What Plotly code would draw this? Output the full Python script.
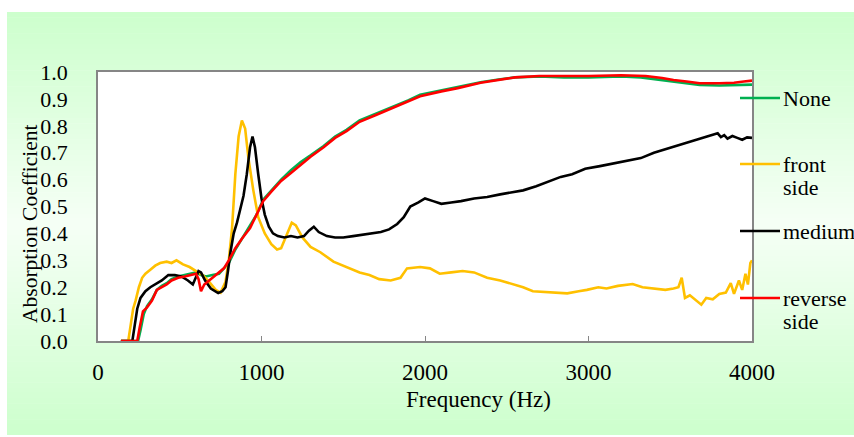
import plotly.graph_objects as go

# ---------------- data ----------------
series_names = ["None", "front side", "medium", "reverse side"]
series_colors = ["#00b050", "#ffc000", "#000000", "#ff0000"]

none_f = [140, 245, 260, 280, 300, 330, 360, 390, 420, 450, 490, 530, 570, 600, 630, 660, 700, 740, 770, 800,
          840, 880, 930, 970, 1010, 1060, 1120, 1180, 1240, 1300, 1380, 1450, 1520, 1600, 1700, 1800, 1900, 1970, 2100, 2200,
          2340, 2450, 2550, 2700, 2850, 3000, 3200, 3320, 3420, 3520, 3600, 3680, 3800, 3900, 4000]
none_a = [0, 0, 0.04, 0.10, 0.13, 0.155, 0.19, 0.205, 0.215, 0.23, 0.24, 0.245, 0.25, 0.255, 0.245, 0.24, 0.245, 0.25, 0.27, 0.29,
          0.34, 0.38, 0.425, 0.47, 0.525, 0.56, 0.60, 0.635, 0.665, 0.69, 0.725, 0.76, 0.785, 0.82, 0.845, 0.868, 0.895, 0.915, 0.932, 0.945,
          0.962, 0.972, 0.98, 0.983, 0.98, 0.98, 0.983, 0.98, 0.972, 0.965, 0.958, 0.952, 0.95, 0.952, 0.953]

front_f = [140, 185, 200, 215, 230, 250, 270, 290, 320, 350, 380, 420, 450, 480, 520, 560, 600, 640, 680, 720,
           750, 780, 800, 820, 840, 860, 880, 900, 920, 950, 980, 1020, 1060, 1095, 1120, 1150, 1185, 1210, 1250, 1300,
           1360, 1440, 1520, 1600, 1660, 1720, 1790, 1850, 1890, 1970, 2030, 2090, 2160, 2230, 2300, 2380, 2460, 2540, 2600, 2660,
           2720, 2800, 2870, 2940, 2990, 3060, 3110, 3180, 3270, 3330, 3400, 3470, 3520, 3550, 3570, 3590, 3620, 3660, 3690, 3720,
           3760, 3800, 3840, 3870, 3890, 3920, 3940, 3960, 3975, 3990, 4000]
front_a = [0, 0, 0.06, 0.12, 0.15, 0.20, 0.235, 0.25, 0.265, 0.28, 0.29, 0.295, 0.29, 0.30, 0.285, 0.275, 0.26, 0.245, 0.22, 0.19,
           0.18, 0.22, 0.30, 0.42, 0.62, 0.76, 0.82, 0.79, 0.68, 0.56, 0.46, 0.40, 0.36, 0.34, 0.345, 0.39, 0.44, 0.43, 0.385, 0.35,
           0.33, 0.295, 0.275, 0.255, 0.245, 0.23, 0.225, 0.235, 0.27, 0.275, 0.27, 0.25, 0.255, 0.26, 0.255, 0.235, 0.225, 0.21, 0.20, 0.185,
           0.183, 0.18, 0.177, 0.185, 0.19, 0.20, 0.195, 0.205, 0.212, 0.20, 0.195, 0.19, 0.195, 0.20, 0.235, 0.16, 0.17, 0.15, 0.135, 0.16,
           0.155, 0.175, 0.18, 0.215, 0.175, 0.225, 0.19, 0.25, 0.21, 0.29, 0.30]

medium_f = [140, 210, 225, 240, 260, 290, 320, 350, 390, 430, 470, 510, 550, 580, 600, 615, 630, 655, 690, 735,
            760, 780, 795, 810, 830, 850, 870, 890, 910, 930, 945, 960, 980, 1000, 1020, 1045, 1070, 1100, 1140, 1180,
            1220, 1260, 1290, 1320, 1350, 1400, 1450, 1500, 1560, 1620, 1680, 1730, 1780, 1830, 1870, 1910, 1960, 2000, 2050, 2100,
            2160, 2220, 2300, 2380, 2460, 2540, 2600, 2680, 2760, 2830, 2900, 2980, 3070, 3150, 3230, 3320, 3400, 3480, 3560, 3640,
            3720, 3790, 3810, 3830, 3850, 3880, 3910, 3940, 3970, 4000]
medium_a = [0, 0, 0.06, 0.12, 0.16, 0.185, 0.20, 0.21, 0.225, 0.245, 0.245, 0.24, 0.225, 0.21, 0.24, 0.26, 0.255, 0.225, 0.195, 0.178,
            0.185, 0.20, 0.26, 0.33, 0.40, 0.44, 0.49, 0.54, 0.62, 0.72, 0.76, 0.72, 0.62, 0.53, 0.47, 0.425, 0.40, 0.39, 0.385, 0.39,
            0.385, 0.39, 0.41, 0.425, 0.405, 0.39, 0.385, 0.385, 0.39, 0.395, 0.40, 0.405, 0.415, 0.435, 0.46, 0.50, 0.515, 0.53, 0.52, 0.51,
            0.515, 0.52, 0.53, 0.535, 0.545, 0.555, 0.56, 0.575, 0.595, 0.61, 0.62, 0.64, 0.65, 0.66, 0.67, 0.68, 0.70, 0.715, 0.73, 0.745,
            0.76, 0.772, 0.758, 0.765, 0.752, 0.762, 0.755, 0.748, 0.757, 0.755]

reverse_f = [140, 240, 255, 275, 300, 330, 360, 390, 420, 450, 490, 530, 570, 600, 615, 630, 650, 670, 700, 735,
             770, 800, 840, 880, 930, 970, 1010, 1060, 1120, 1180, 1240, 1300, 1380, 1450, 1520, 1600, 1700, 1800, 1900, 1970,
             2100, 2200, 2340, 2450, 2550, 2700, 2850, 3000, 3200, 3350, 3450, 3520, 3600, 3680, 3800, 3890, 3950, 4000]
reverse_a = [0, 0, 0.05, 0.11, 0.125, 0.15, 0.19, 0.20, 0.21, 0.225, 0.235, 0.24, 0.245, 0.25, 0.23, 0.185, 0.21, 0.22, 0.235, 0.25,
             0.27, 0.30, 0.345, 0.38, 0.42, 0.47, 0.52, 0.555, 0.595, 0.625, 0.655, 0.685, 0.72, 0.755, 0.78, 0.815, 0.84, 0.865, 0.89, 0.91,
             0.928, 0.94, 0.96, 0.97, 0.98, 0.985, 0.985, 0.985, 0.988, 0.985, 0.978, 0.97, 0.965, 0.958, 0.958, 0.96, 0.965, 0.968]

x_ticks = [0, 1000, 2000, 3000, 4000]

xs = [none_f, front_f, medium_f, reverse_f]
ys = [none_a, front_a, medium_a, reverse_a]
for a, b in zip(xs, ys):
    assert len(a) == len(b), (len(a), len(b))

# ---------------- figure ----------------
W, H = 854, 437
L, R, T, B = 98, 752, 72, 341
FONT = "'Liberation Serif', 'Times New Roman', 'DejaVu Serif', serif"


def px_x(px):
    return (px - L) / (R - L)


def px_y(py):
    return (B - py) / (B - T)


fig = go.Figure()
for name, color, fx, fa in zip(series_names, series_colors, xs, ys):
    fig.add_trace(go.Scatter(x=fx, y=fa, mode="lines", name=name,
                             line=dict(color=color, width=2.6), showlegend=False))

shapes = []
# gradient background (green -> pale -> green)
top_px, bot_px, mid_px = 12, 435, 224
green = (204, 255, 204)
pale = (246, 255, 246)
n = 40
for i in range(n):
    y0 = top_px + (mid_px - top_px) * i / n
    y1 = top_px + (mid_px - top_px) * (i + 1) / n
    t = (i + 0.5) / n
    c = tuple(round(green[k] + (pale[k] - green[k]) * t) for k in range(3))
    shapes.append(dict(type="rect", xref="paper", yref="paper", x0=px_x(7), x1=px_x(W + 5),
                       y0=px_y(y1 + 0.5), y1=px_y(y0), fillcolor="rgb(%d,%d,%d)" % c,
                       line=dict(width=0), layer="below"))
for i in range(n):
    y0 = mid_px + (bot_px - mid_px) * i / n
    y1 = mid_px + (bot_px - mid_px) * (i + 1) / n
    t = (i + 0.5) / n
    c = tuple(round(pale[k] + (green[k] - pale[k]) * t) for k in range(3))
    shapes.append(dict(type="rect", xref="paper", yref="paper", x0=px_x(7), x1=px_x(W + 5),
                       y0=px_y(y1 + (0.5 if i < n - 1 else 0)), y1=px_y(y0), fillcolor="rgb(%d,%d,%d)" % c,
                       line=dict(width=0), layer="below"))
# white plot area
shapes.append(dict(type="rect", xref="paper", yref="paper", x0=0, x1=1, y0=0, y1=1,
                   fillcolor="white", line=dict(width=0), layer="below"))

# legend (manual)
legend_rows = [98, 164, 231, 298]
annotations = []
for name, color, ly in zip(series_names, series_colors, legend_rows):
    shapes.append(dict(type="line", xref="paper", yref="paper", x0=px_x(740), x1=px_x(780),
                       y0=px_y(ly), y1=px_y(ly), line=dict(color=color, width=2.6)))
    words = name.split(" ")
    for j, w in enumerate(words):
        annotations.append(dict(text=w, xref="paper", yref="paper", x=px_x(781), y=px_y(ly + 23.5 * j),
                                xanchor="left", yanchor="middle", showarrow=False,
                                font=dict(family=FONT, size=22, color="black")))

annotations.append(dict(text="Frequency (Hz)", xref="paper", yref="paper", x=px_x(479), y=px_y(399),
                        xanchor="center", yanchor="middle", showarrow=False,
                        font=dict(family=FONT, size=23, color="black")))
annotations.append(dict(text="Absorption Coefficient", xref="paper", yref="paper", x=px_x(30), y=px_y(224),
                        xanchor="center", yanchor="middle", showarrow=False, textangle=-90,
                        font=dict(family=FONT, size=21.5, color="black")))

fig.update_layout(
    width=W, height=H,
    margin=dict(l=L, r=W - R, t=T, b=H - B),
    paper_bgcolor="white", plot_bgcolor="white",
    shapes=shapes, annotations=annotations,
    font=dict(family=FONT, size=22, color="black"),
    showlegend=False,
)
fig.update_xaxes(range=[0, 4000], tickvals=x_ticks, ticks="inside", ticklen=5, tickcolor="#868686",
                 showline=True, mirror=True, linecolor="#868686", linewidth=1.5,
                 showgrid=False, zeroline=False, ticklabelstandoff=10,
                 tickfont=dict(family=FONT, size=23, color="black"))
fig.update_yaxes(range=[0, 1.0], dtick=0.1, tickformat=".1f", ticks="",
                 showline=True, mirror=True, linecolor="#868686", linewidth=1.5,
                 showgrid=False, zeroline=False, ticklabelstandoff=24,
                 tickfont=dict(family=FONT, size=22, color="black"))

fig.write_html("out.html")
